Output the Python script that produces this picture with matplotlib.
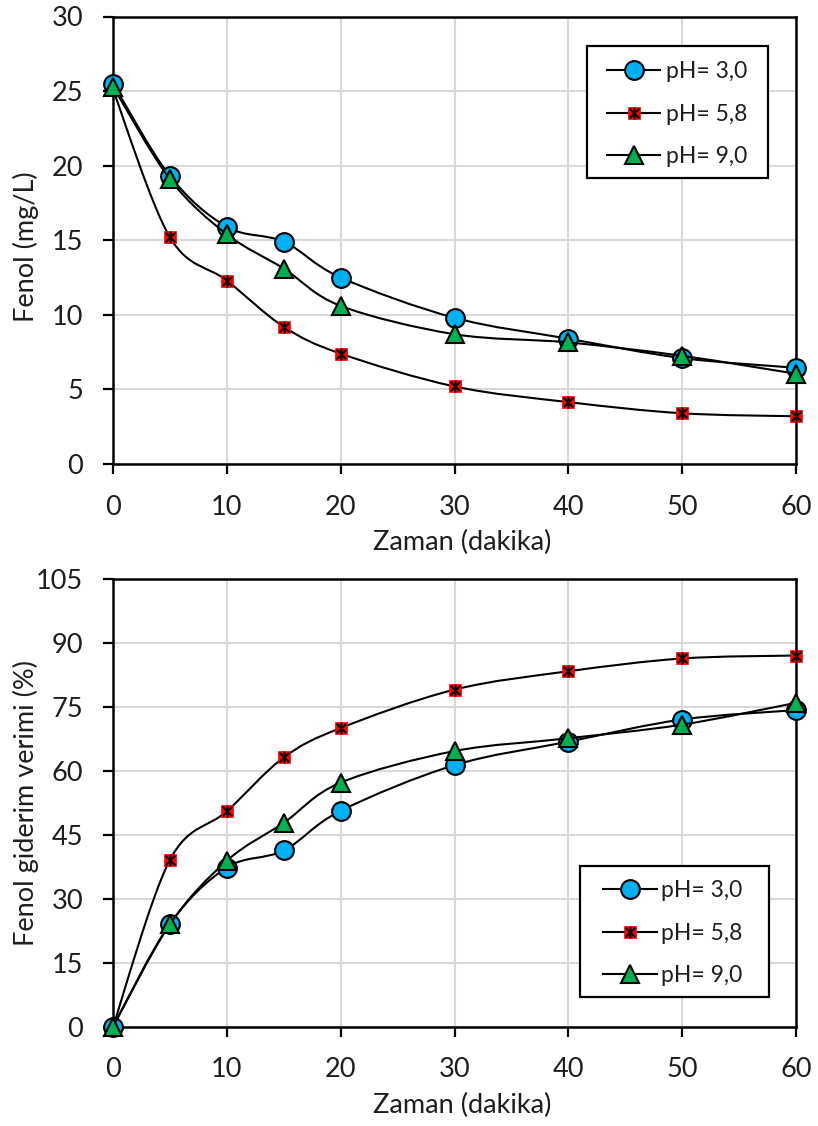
import numpy as np
import matplotlib
matplotlib.use("Agg")
import matplotlib.pyplot as plt
from matplotlib.path import Path
from matplotlib.patches import PathPatch, Rectangle
from matplotlib.lines import Line2D
from matplotlib.legend_handler import HandlerTuple

plt.rcParams['font.family'] = ['Lato', 'DejaVu Sans']

time_min = [0, 5, 10, 15, 20, 30, 40, 50, 60]
labels = ["pH= 3,0", "pH= 5,8", "pH= 9,0"]

fenol_ph30 = [25.5, 19.3, 15.9, 14.9, 12.5, 9.8, 8.4, 7.1, 6.45]
fenol_ph58 = [25.1, 15.2, 12.3, 9.2, 7.4, 5.2, 4.15, 3.4, 3.2]
fenol_ph90 = [25.3, 19.1, 15.4, 13.1, 10.6, 8.7, 8.15, 7.25, 6.05]

verim_ph30 = [0, 24.1, 37.3, 41.3, 50.6, 61.3, 66.8, 72.0, 74.2]
verim_ph58 = [0, 39.1, 50.5, 63.1, 70.0, 79.0, 83.3, 86.3, 87.0]
verim_ph90 = [0, 24.0, 38.9, 47.8, 57.2, 64.6, 67.6, 70.8, 75.9]

x_ticks = [0, 10, 20, 30, 40, 50, 60]
top_yticks = [0, 5, 10, 15, 20, 25, 30]
bot_yticks = [0, 15, 30, 45, 60, 75, 90, 105]

blue = '#00b0f0'
red = '#ff0000'
green = '#00b050'
txt = '#1e1e1e'

W, H = 818, 1126
FS = 19.5
LFS = 16.5

star = Path([(-1, -1), (1, 1), (-1, 1), (1, -1), (0, -1.25), (0, 1.25)],
            [Path.MOVETO, Path.LINETO, Path.MOVETO, Path.LINETO, Path.MOVETO, Path.LINETO])


def smooth_path(x, y):
    x = np.asarray(x, float)
    y = np.asarray(y, float)
    n = len(x)
    verts = [(x[0], y[0])]
    codes = [Path.MOVETO]
    for i in range(n - 1):
        i0 = max(i - 1, 0)
        i3 = min(i + 2, n - 1)
        c1 = (x[i] + (x[i + 1] - x[i0]) / 6.0, y[i] + (y[i + 1] - y[i0]) / 6.0)
        c2 = (x[i + 1] - (x[i3] - x[i]) / 6.0, y[i + 1] - (y[i3] - y[i]) / 6.0)
        verts += [c1, c2, (x[i + 1], y[i + 1])]
        codes += [Path.CURVE4] * 3
    return Path(verts, codes)


fig = plt.figure(figsize=(W / 100, H / 100), dpi=100)
ax1 = fig.add_axes([113 / W, 1 - 464 / H, (796 - 113) / W, (464 - 16.5) / H])
ax2 = fig.add_axes([113 / W, 1 - 1026.7 / H, (796 - 113) / W, (1026.7 - 578.7) / H])

MS_BIG = 13.5
MS_SQ = 8.6


def draw(ax, s30, s58, s90, yticks, ylabel, ylab_y):
    ax.set_xlim(0, 60)
    ax.set_ylim(yticks[0], yticks[-1])
    ax.set_xticks(x_ticks)
    ax.set_yticks(yticks)
    ax.grid(True, color='#d9d9d9', linewidth=1.5, zorder=0)
    ax.set_axisbelow(True)
    for s in ['left', 'bottom', 'right', 'top']:
        ax.spines[s].set_linewidth(1.8)
        ax.spines[s].set_color('black')
        ax.spines[s].set_zorder(2.5)
    ax.tick_params(axis='both', direction='out', length=7.5, width=1.6,
                   labelsize=FS, colors='black', labelcolor=txt)
    ax.tick_params(axis='x', pad=14.5)
    ax.tick_params(axis='y', pad=14.0)
    ax.set_xlabel('Zaman (dakika)', fontsize=FS, color=txt)
    ax.set_ylabel(ylabel, fontsize=FS, color=txt)
    ax_h_px = ax.get_position().height * H
    ax.xaxis.set_label_coords((462 - 113) / 683, -66 / ax_h_px)
    ax.yaxis.set_label_coords(-0.108, ylab_y)

    series = [(s58, 3), (s30, 4), (s90, 5)]
    for ys, z in series:
        ax.add_patch(PathPatch(smooth_path(time_min, ys), facecolor='none',
                               edgecolor='black', linewidth=1.5, zorder=z, clip_on=False))
    ax.plot(time_min, s58, linestyle='none', marker='s', markersize=MS_SQ, markerfacecolor=red,
            markeredgecolor=red, markeredgewidth=0.5, zorder=3.1, clip_on=False)
    ax.plot(time_min, s58, linestyle='none', marker=star, markersize=MS_SQ, markeredgecolor='black',
            markeredgewidth=1.4, zorder=3.2, clip_on=False)
    ax.plot(time_min, s30, linestyle='none', marker='o', markersize=MS_BIG, markerfacecolor=blue,
            markeredgecolor='black', markeredgewidth=1.5, zorder=4.1, clip_on=False)
    ax.plot(time_min, s90, linestyle='none', marker='^', markersize=MS_BIG, markerfacecolor=green,
            markeredgecolor='black', markeredgewidth=1.5, zorder=5.1, clip_on=False)


def legend(ax, box, handle_left, row1, rowstep, handle_len_px, text_left):
    h30 = Line2D([], [], color='black', linewidth=1.5, marker='o', markersize=MS_BIG,
                 markerfacecolor=blue, markeredgecolor='black', markeredgewidth=1.5)
    h58a = Line2D([], [], color='black', linewidth=1.5, marker='s', markersize=MS_SQ,
                  markerfacecolor=red, markeredgecolor=red, markeredgewidth=0.5)
    h58b = Line2D([], [], linestyle='none', marker=star, markersize=MS_SQ,
                  markeredgecolor='black', markeredgewidth=1.4)
    h90 = Line2D([], [], color='black', linewidth=1.5, marker='^', markersize=MS_BIG,
                 markerfacecolor=green, markeredgecolor='black', markeredgewidth=1.5)
    fpx = LFS * 100 / 72
    row_h = 1.2 * fpx
    leg = ax.legend([h30, (h58a, h58b), h90], labels,
                    handler_map={tuple: HandlerTuple(ndivide=1, pad=0)},
                    loc='upper left',
                    bbox_to_anchor=(handle_left / W, 1 - (row1 - row_h / 2) / H),
                    bbox_transform=fig.transFigure,
                    prop={'size': LFS}, frameon=False,
                    handlelength=handle_len_px / fpx,
                    handletextpad=(text_left - handle_left - handle_len_px) / fpx,
                    labelspacing=(rowstep - row_h) / fpx,
                    borderpad=0, borderaxespad=0)
    leg.set_zorder(21)
    for t in leg.get_texts():
        t.set_color(txt)
    x0, y0, x1, y1 = box
    ax.add_patch(Rectangle((x0 / W, 1 - y1 / H), (x1 - x0) / W, (y1 - y0) / H,
                           transform=fig.transFigure, facecolor='white',
                           edgecolor='black', linewidth=1.6, zorder=20, clip_on=False))


draw(ax1, fenol_ph30, fenol_ph58, fenol_ph90, top_yticks, 'Fenol (mg/L)', 0.485)
draw(ax2, verim_ph30, verim_ph58, verim_ph90, bot_yticks, 'Fenol giderim verimi (%)', 0.5)
legend(ax1, (587, 46, 768, 178), 607, 75, 49, 53, 666)
legend(ax2, (580, 866, 769, 997), 603, 894, 49, 54, 661)

fig.savefig('out.png', dpi=100)
